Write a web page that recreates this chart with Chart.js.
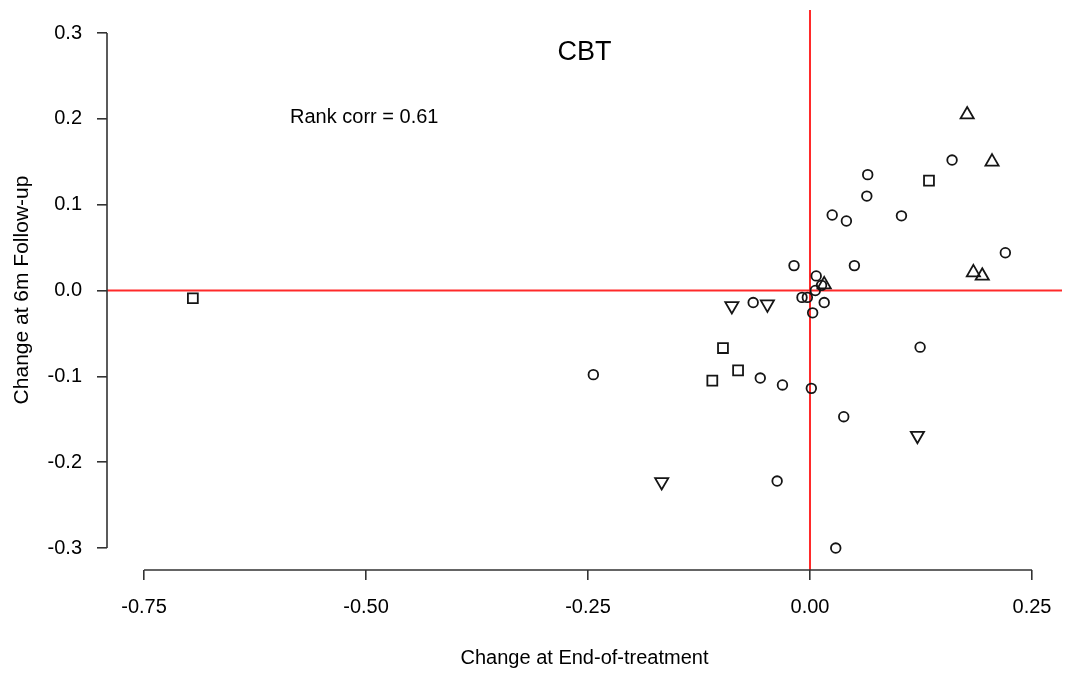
<!DOCTYPE html>
<html>
<head>
<meta charset="utf-8">
<script src="https://cdn.jsdelivr.net/npm/chart.js@4"></script>
<style>
  html, body { margin: 0; padding: 0; background: #fff; }
  canvas { display: block; }
</style>
</head>
<body>
<canvas id="cbt" width="1065" height="673"></canvas>
<script>
// change at end-of-treatment (x) vs change at 6m follow-up (y), one pair of arrays per symbol
const circleX = [0.025, 0.041, 0.065, 0.064, 0.103, 0.160, 0.220, 0.050, -0.018, 0.007, 0.013, 0.006, -0.009, -0.003, 0.016, -0.064, 0.003, -0.244, -0.056, -0.031, 0.0015, 0.124, 0.038, -0.037, 0.029];
const circleY = [0.088, 0.081, 0.135, 0.110, 0.087, 0.152, 0.044, 0.029, 0.029, 0.017, 0.006, 0.000, -0.008, -0.008, -0.014, -0.014, -0.026, -0.098, -0.102, -0.110, -0.114, -0.066, -0.147, -0.222, -0.300];
const squareX = [-0.695, -0.098, -0.081, -0.110, 0.134];
const squareY = [-0.009, -0.067, -0.093, -0.105, 0.128];
const triUpX = [0.177, 0.205, 0.184, 0.194, 0.016];
const triUpY = [0.205, 0.150, 0.021, 0.017, 0.007];
const triDownX = [-0.088, -0.048, 0.121, -0.167];
const triDownY = [-0.018, -0.016, -0.169, -0.223];

const xTicks = [-0.75, -0.5, -0.25, 0, 0.25];
const yTicks = [-0.3, -0.2, -0.1, 0, 0.1, 0.2, 0.3];

const mainTitle = "CBT";
const titleAt = [-0.254, 0.277];
const corrText = "Rank corr = 0.61";
const corrAt = [-0.502, 0.202];

const FONT = "'Liberation Sans', Arial, sans-serif";
const INK = "#151515";

const toPoints = (xs, ys) => xs.map((x, i) => ({ x, y: ys[i] }));

function symbolSet(xs, ys, style, radius, rotation) {
  return {
    data: toPoints(xs, ys),
    pointStyle: style,
    pointRadius: radius,
    pointRotation: rotation || 0,
    pointBorderWidth: 1.8,
    pointBorderColor: INK,
    pointBackgroundColor: "rgba(0,0,0,0)",
    showLine: false,
  };
}

// red reference lines at x = 0 and y = 0 across the whole plot region
const zeroLines = {
  id: "zeroLines",
  beforeDatasetsDraw(chart) {
    const { ctx, chartArea: a, scales } = chart;
    const x0 = scales.x.getPixelForValue(0);
    const y0 = scales.y.getPixelForValue(0);
    ctx.save();
    ctx.strokeStyle = "#ff2a2a";
    ctx.lineWidth = 2;
    ctx.beginPath();
    ctx.moveTo(x0, a.top);
    ctx.lineTo(x0, a.bottom);
    ctx.moveTo(a.left, y0);
    ctx.lineTo(a.right, y0);
    ctx.stroke();
    ctx.restore();
  },
};

// R-style axis lines that only run between the first and last tick, plus the text labels
const baseAxes = {
  id: "baseAxes",
  afterDraw(chart) {
    const { ctx, chartArea: a, scales } = chart;
    const { x, y } = scales;
    ctx.save();
    ctx.strokeStyle = "#333";
    ctx.lineWidth = 1.6;
    ctx.beginPath();
    ctx.moveTo(x.getPixelForValue(xTicks[0]), a.bottom);
    ctx.lineTo(x.getPixelForValue(xTicks[xTicks.length - 1]), a.bottom);
    ctx.moveTo(a.left, y.getPixelForValue(yTicks[0]));
    ctx.lineTo(a.left, y.getPixelForValue(yTicks[yTicks.length - 1]));
    ctx.stroke();

    ctx.fillStyle = "#000";
    ctx.textAlign = "center";
    ctx.textBaseline = "middle";
    ctx.font = `27px ${FONT}`;
    ctx.fillText(mainTitle, x.getPixelForValue(titleAt[0]), y.getPixelForValue(titleAt[1]));
    ctx.font = `20px ${FONT}`;
    ctx.fillText(corrText, x.getPixelForValue(corrAt[0]), y.getPixelForValue(corrAt[1]));
    ctx.restore();
  },
};

new Chart(document.getElementById("cbt"), {
  type: "scatter",
  data: {
    datasets: [
      symbolSet(circleX, circleY, "circle", 4.8),
      symbolSet(squareX, squareY, "rect", 7),
      symbolSet(triUpX, triUpY, "triangle", 7.6),
      symbolSet(triDownX, triDownY, "triangle", 7.6, 180),
    ],
  },
  options: {
    responsive: false,
    animation: false,
    events: [],
    layout: { autoPadding: false, padding: { left: 0, right: 3, top: 10, bottom: 0 } },
    plugins: { legend: { display: false }, tooltip: { enabled: false } },
    scales: {
      x: {
        type: "linear",
        min: -0.7917,
        max: 0.2838,
        afterBuildTicks: (s) => { s.ticks = xTicks.map((value) => ({ value })); },
        afterFit: (s) => {
          s.height = 103;
          s.paddingLeft = 0;
          s.paddingRight = 0;
        },
        border: { display: false },
        grid: { drawOnChartArea: false, drawTicks: true, tickLength: 10, color: "#333", lineWidth: 1.6 },
        ticks: {
          padding: 15,
          color: "#000",
          font: { family: FONT, size: 20 },
          maxRotation: 0,
          callback: (v) => Number(v).toFixed(2),
        },
        title: {
          display: true,
          text: "Change at End-of-treatment",
          color: "#000",
          font: { family: FONT, size: 20 },
          padding: { top: 0, bottom: 3 },
        },
      },
      y: {
        type: "linear",
        min: -0.3256,
        max: 0.3268,
        afterBuildTicks: (s) => { s.ticks = yTicks.map((value) => ({ value })); },
        afterFit: (s) => {
          s.width = 107;
          s.paddingTop = 0;
          s.paddingBottom = 0;
        },
        border: { display: false },
        grid: { drawOnChartArea: false, drawTicks: true, tickLength: 10, color: "#333", lineWidth: 1.6 },
        ticks: {
          padding: 15,
          color: "#000",
          font: { family: FONT, size: 20 },
          callback: (v) => Number(v).toFixed(1),
        },
        title: {
          display: true,
          text: "Change at 6m Follow-up",
          color: "#000",
          font: { family: FONT, size: 21 },
          padding: { top: 10, bottom: 0 },
        },
      },
    },
  },
  plugins: [zeroLines, baseAxes],
});
</script>
</body>
</html>
